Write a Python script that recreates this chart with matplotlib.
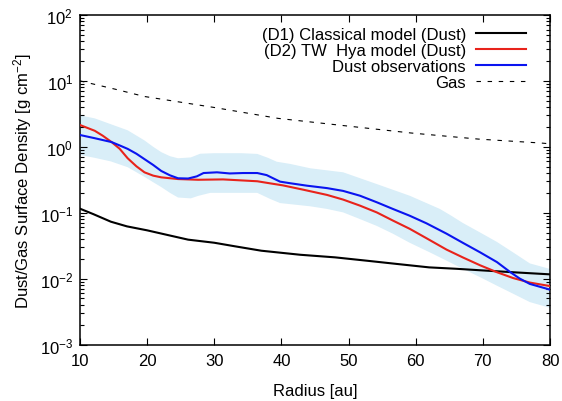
import numpy as np
import matplotlib
matplotlib.use('Agg')
import matplotlib.pyplot as plt

plt.rcParams['font.family'] = ['Liberation Sans', 'DejaVu Sans']
plt.rcParams['mathtext.fontset'] = 'custom'
plt.rcParams['mathtext.rm'] = 'Liberation Sans'
plt.rcParams['mathtext.it'] = 'Liberation Sans:italic'
plt.rcParams['mathtext.bf'] = 'Liberation Sans:bold'

# Classical model (D1)
r_d1 = [10, 12, 14.6, 17, 20, 23, 26.1, 30, 33, 37, 42.8, 48, 52.9, 57.4, 62, 66, 70, 75, 80]
s_d1 = [0.115, 0.095, 0.073, 0.062, 0.054, 0.046, 0.039, 0.035, 0.031, 0.0265, 0.023,
        0.021, 0.0186, 0.0166, 0.0148, 0.0141, 0.0133, 0.0124, 0.0116]

# TW Hya model (D2)
r_d2 = [10, 12.2, 13.4, 14.7, 15.9, 17.1, 18.4, 19.6, 20.9, 22.1, 24.6, 27.6, 31.3, 36.4,
        38.3, 40.2, 43.2, 46.8, 49.2, 51.7, 54.2, 56.6, 59.1, 61.6, 64.6, 67, 69.6, 72.1,
        74.5, 77, 80]
s_d2 = [2.14, 1.75, 1.47, 1.18, 0.935, 0.67, 0.506, 0.41, 0.365, 0.344, 0.324, 0.316,
        0.32, 0.30, 0.279, 0.26, 0.224, 0.186, 0.158, 0.128, 0.101, 0.076, 0.057, 0.041,
        0.0275, 0.021, 0.0159, 0.0125, 0.0102, 0.0087, 0.0077]

# Dust observations
r_obs = [10, 12.2, 14.7, 15.9, 17.1, 18.4, 19.6, 20.9, 22.1, 23.4, 24.6, 26.1, 27.4, 28.4,
         30.4, 32.3, 34.3, 36.4, 37.8, 39, 39.8, 41.3, 43.8, 46.8, 49.2, 51.7, 54.2, 56.6,
         59.1, 61.6, 64.6, 67, 69.6, 72.1, 74.1, 75.5, 77, 80]
s_obs = [1.51, 1.35, 1.18, 1.05, 0.93, 0.785, 0.65, 0.53, 0.43, 0.369, 0.333, 0.33, 0.356,
         0.40, 0.41, 0.394, 0.40, 0.40, 0.372, 0.324, 0.296, 0.28, 0.257, 0.236, 0.214,
         0.181, 0.144, 0.114, 0.09, 0.069, 0.048, 0.035, 0.025, 0.0178, 0.0125, 0.010,
         0.0083, 0.0068]

# observation uncertainty band
r_up = [10, 12.2, 14.6, 17.1, 19.6, 20.9, 22.1, 23.4, 24.6, 26.5, 27.9, 30, 34, 36.4, 38,
        39.3, 41.3, 44.3, 49.2, 54.2, 59.1, 63.6, 65.3, 67, 69.6, 72.1, 74.5, 77, 80]
s_up = [3.0, 2.7, 2.2, 1.78, 1.25, 1.0, 0.83, 0.72, 0.67, 0.69, 0.785, 0.80, 0.80, 0.78,
        0.68, 0.594, 0.55, 0.472, 0.41, 0.272, 0.181, 0.114, 0.09, 0.07, 0.05, 0.036,
        0.025, 0.017, 0.014]
r_lo = [10, 12.2, 14.6, 17.1, 19.6, 20.9, 22.1, 23.4, 24.6, 26.5, 27.6, 29.4, 36.4, 38.3,
        39.8, 44.3, 46.8, 49.2, 51.7, 54.2, 56.6, 59.1, 62.1, 64.6, 67, 69.6, 72.1, 74.5,
        77, 80]
s_lo = [0.75, 0.68, 0.60, 0.49, 0.35, 0.29, 0.245, 0.20, 0.17, 0.165, 0.18, 0.20, 0.20,
        0.162, 0.14, 0.125, 0.114, 0.101, 0.080, 0.063, 0.048, 0.035, 0.025, 0.0187,
        0.0141, 0.0105, 0.0078, 0.0059, 0.0044, 0.0036]

# Gas
r_gas = [10, 15.2, 19.6, 30, 39.5, 49.4, 59.3, 69.3, 78.7, 80]
s_gas = [10, 7.5, 5.8, 3.95, 2.7, 2.09, 1.62, 1.31, 1.14, 1.11]

fig = plt.figure(figsize=(5.62, 4.02), dpi=100)
ax = fig.add_axes([80 / 562, 1 - 345.5 / 402, 470 / 562, 329.5 / 402])

ax.fill(r_up + r_lo[::-1], s_up + s_lo[::-1], color='#d9eef8', lw=0, zorder=1)
ax.plot(r_d1, s_d1, color='black', lw=1.5, label='(D1) Classical model (Dust)', zorder=3)
ax.plot(r_d2, s_d2, color='#e8231b', lw=1.5, label='(D2) TW  Hya model (Dust)', zorder=3)
ax.plot(r_obs, s_obs, color='#0a14f0', lw=1.5, label='Dust observations', zorder=4)
ax.plot(r_gas, s_gas, color='black', lw=0.8, dashes=(4, 6), label='Gas', zorder=3)

ax.set_yscale('log')
ax.set_xlim(10, 80)
ax.set_ylim(1e-3, 1e2)
ax.set_xticks(range(10, 81, 10))
ax.tick_params(which='both', direction='in', top=True, right=True, labelsize=12, width=0.8)
ax.tick_params(which='major', length=5)
ax.tick_params(which='minor', length=3)
ax.tick_params(axis='x', pad=6)
ax.tick_params(axis='y', pad=5)
for s in ax.spines.values():
    s.set_linewidth(1.1)

ax.set_xlabel('Radius [au]', fontsize=12, labelpad=11)
ax.set_ylabel('Dust/Gas Surface Density [g cm$^{\\mathdefault{-2}}$]', fontsize=12, labelpad=4)

ax.legend(loc='upper right', bbox_to_anchor=(0.956, 0.975), frameon=False, fontsize=12,
          markerfirst=False, handlelength=3.0, handletextpad=0.6, labelspacing=0.07,
          borderpad=0.2, borderaxespad=0.0)

fig.savefig('out.png', dpi=100)
